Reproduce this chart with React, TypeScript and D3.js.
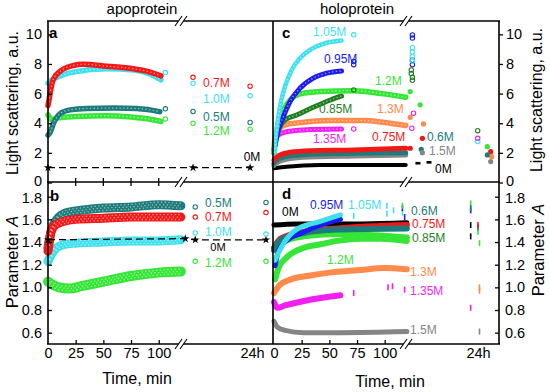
import React, { useEffect, useRef } from "react";
import * as d3 from "d3";

type Pt = [number, number];

// tick values
const lsTicks = [0, 2, 4, 6, 8, 10];
const paTicks = [0.6, 0.8, 1.0, 1.2, 1.4, 1.6, 1.8];
const minTicks = [0, 25, 50, 75, 100];
const dayTick = 1440; // "24h"

// panel a: light scattering, apoprotein  [time min, value]
const aRed07: Pt[] = [[0, 5.2], [1, 5.6], [2.4, 6.25], [4.8, 6.95], [10.8, 7.5], [23, 7.9], [32, 7.98], [53, 7.85], [77, 7.68], [90, 7.5], [102, 7.2]];
const aCyan10: Pt[] = [[0, 6.7], [5, 7.0], [11, 7.2], [23, 7.45], [53, 7.67], [77, 7.6], [92, 7.33], [102, 6.93]];
const aTeal05: Pt[] = [[0, 3.2], [2, 3.4], [5, 4.0], [8, 4.4], [11, 4.65], [20, 4.9], [35, 5.0], [60, 5.02], [80, 5.0], [92, 4.9], [101, 4.78]];
const aGreen12: Pt[] = [[0, 4.56], [1.5, 4.4], [3, 4.22], [8, 4.35], [25, 4.45], [53, 4.51], [75, 4.42], [90, 4.3], [102, 4.12]];
const aLateRed: Pt[] = [[131, 7.1], [1390, 6.5]];
const aLateCyan: Pt[] = [[106, 7.42], [131, 6.7], [1390, 5.85]];
const aLateTeal: Pt[] = [[106, 4.97], [131, 4.8], [1390, 4.05]];
const aLateGreen: Pt[] = [[106, 4.29], [131, 4.0], [1390, 3.6]];
const a0M: Pt[] = [[0, 1.0], [131, 1.0], [1390, 1.0]];

// panel b: parameter A, apoprotein
const bTeal05: Pt[] = [[0, 1.35], [3, 1.5], [8, 1.6], [17, 1.66], [30, 1.68], [50, 1.7], [75, 1.71], [100, 1.73], [120, 1.72]];
const bRed07: Pt[] = [[0, 1.32], [3, 1.5], [8, 1.56], [25, 1.6], [50, 1.61], [75, 1.62], [100, 1.62], [120, 1.62]];
const bCyan10: Pt[] = [[0, 1.23], [3, 1.29], [8, 1.35], [15, 1.38], [25, 1.39], [50, 1.4], [75, 1.41], [100, 1.41], [120, 1.42]];
const bGreen12: Pt[] = [[0, 1.05], [5, 1.02], [10, 1.0], [20, 0.99], [30, 1.01], [50, 1.05], [75, 1.1], [100, 1.13], [120, 1.14]];
const bLateTeal: Pt[] = [[133, 1.71], [1811, 1.75]];
const bLateRed: Pt[] = [[133, 1.62], [1811, 1.66]];
const bLateCyan: Pt[] = [[133, 1.48], [1811, 1.47]];
const bLateGreen: Pt[] = [[133, 1.23], [1811, 1.23]];
const b0M: Pt[] = [[0, 1.42], [124, 1.43], [133, 1.42], [1811, 1.42]];

// panel c: light scattering, holoprotein
const cCyan105: Pt[] = [[0.5, 2.0], [1, 2.6], [2.4, 3.55], [5.4, 5.12], [9.9, 6.47], [16, 7.6], [23.5, 8.39], [32.5, 8.95], [44.5, 9.36], [61, 9.58]];
const cBlue095: Pt[] = [[1, 2.5], [3, 3.3], [8.5, 4.45], [14.5, 5.46], [23.5, 6.36], [35.5, 7.04], [47.5, 7.38], [61, 7.53]];
const cGreen12: Pt[] = [[0, 2.0], [2, 3.2], [4, 4.1], [8.5, 4.9], [14.5, 5.57], [23.5, 5.98], [42, 6.14], [72, 6.2], [99, 5.98], [119, 5.75]];
const cDkGreen085: Pt[] = [[0, 2.2], [3, 3.3], [5.4, 3.77], [10, 4.22], [20.5, 4.56], [35.5, 5.08], [51, 5.57], [61, 5.84]];
const cOrange13: Pt[] = [[0, 2.3], [1, 3.1], [4, 3.55], [10, 3.89], [23.5, 4.04], [51, 4.18], [81, 4.18], [100, 4.05], [119, 3.85]];
const cMagenta135: Pt[] = [[0, 2.0], [1, 2.87], [4, 3.21], [11.5, 3.43], [26.5, 3.55], [61, 3.61]];
const cRed075: Pt[] = [[0, 1.5], [1, 1.63], [5.4, 1.86], [14.5, 2.04], [32.5, 2.15], [72, 2.2], [119, 2.31]];
const cTeal06: Pt[] = [[0, 1.3], [1, 1.41], [5.4, 1.63], [14.5, 1.81], [41.5, 1.93], [119, 2.01]];
const cGrey15: Pt[] = [[0, 1.15], [1, 1.25], [8.5, 1.52], [26.5, 1.7], [72, 1.79], [119, 1.86]];
const cBlack0: Pt[] = [[0, 0.96], [11.5, 1.07], [41.5, 1.18], [119, 1.18]];
const cLateBlue: Pt[] = [[72, 8.16], [72, 7.95], [125, 9.96], [125, 9.75], [125, 8.25], [125, 7.95]];
const cLateCyan: Pt[] = [[72, 9.97], [125, 9.1], [125, 8.8], [125, 8.5], [125, 8.2], [1432, 2.76]];
const cLateDkGreen: Pt[] = [[72, 6.25], [124, 7.6], [124, 7.35], [125, 7.1], [125, 6.9], [1432, 3.5]];
const cLateMagenta: Pt[] = [[72, 3.61], [126, 4.68], [124.5, 3.66], [1432, 2.98]];
const cLateGreen: Pt[] = [[123, 6.14], [132, 5.24], [1687, 2.42]];
const cLateOrange: Pt[] = [[123, 4.4], [135, 3.95], [1804, 1.74]];
const cLateRed: Pt[] = [[123, 2.31], [134, 2.98], [1777, 2.08]];
const cLateTeal: Pt[] = [[133, 2.24], [1687, 1.86]];
const cLateGrey: Pt[] = [[134, 2.01], [1777, 1.41]];
const cLateBlack: Pt[] = [[130, 1.3], [140, 1.36]];

// panel d: parameter A, holoprotein
const dBlack0: Pt[] = [[0, 1.55], [20, 1.56], [40, 1.56], [80, 1.56], [120, 1.57]];
const dTeal06: Pt[] = [[0, 1.33], [6, 1.42], [27, 1.48], [57, 1.51], [120, 1.52]];
const dRed075: Pt[] = [[0, 1.35], [6, 1.43], [27, 1.49], [57, 1.52], [120, 1.55]];
const dBlue095: Pt[] = [[1, 1.19], [4, 1.32], [11, 1.41], [25, 1.48], [45, 1.56], [60, 1.6]];
const dCyan105: Pt[] = [[1, 1.24], [7, 1.36], [20, 1.51], [41, 1.58], [60, 1.64]];
const dGreen085: Pt[] = [[1, 1.34], [10, 1.41], [27, 1.45], [60, 1.47], [90, 1.46], [120, 1.44]];
const dGreen12: Pt[] = [[1, 1.07], [4, 1.17], [11, 1.26], [27, 1.35], [42, 1.38], [57, 1.41], [78, 1.43], [96, 1.43], [120, 1.41]];
const dOrange13: Pt[] = [[0, 0.95], [5, 1.02], [15, 1.07], [30, 1.1], [50, 1.13], [75, 1.15], [100, 1.17], [120, 1.16]];
const dMagenta135: Pt[] = [[0, 0.87], [3, 0.82], [10, 0.84], [27, 0.88], [45, 0.91], [60, 0.93]];
const dGrey15: Pt[] = [[0, 0.7], [3, 0.65], [10, 0.62], [27, 0.6], [60, 0.6], [120, 0.61]];
const dSpikeCyan: Pt[] = [[72, 1.63], [102, 1.72], [102, 1.65], [108, 1.68], [116, 1.66]];
const dSpikeBlue: Pt[] = [[116, 1.7], [118, 1.62], [1246, 1.68]];
const dSpikeGreen: Pt[] = [[116, 1.72], [1246, 1.74], [1440, 1.49], [1480, 1.39]];
const dSpikeTeal: Pt[] = [[1246, 1.7], [1440, 1.53]];
const dSpikeBlack: Pt[] = [[1246, 1.55], [1246, 1.45]];
const dSpikeRed: Pt[] = [[1440, 1.55]];
const dSpikeMagenta: Pt[] = [[72, 0.95], [103, 1.0], [107, 1.01], [118, 0.98], [1246, 0.82]];
const dSpikeOrange: Pt[] = [[1480, 1.0], [1480, 0.97]];
const dSpikeGrey: Pt[] = [[1480, 0.61]];

const FONT = "'Liberation Sans', Arial, Helvetica, sans-serif";
const RED = "#f21818", CYAN = "#3fe0ee", TEAL = "#1e7b7b", GREEN = "#36e636",
  BLUE = "#1c1cf0", DKGREEN = "#1f7f1f", ORANGE = "#ff8a4c", MAGENTA = "#f21ff2", GREY = "#858585";

export default function App() {
  const ref = useRef<SVGSVGElement>(null);

  useEffect(() => {
    const svg = d3.select(ref.current);
    svg.selectAll("*").remove();

    const xL = d3.scaleLinear().domain([0, 140, 1440]).range([48, 203, 252]);
    const xR = d3.scaleLinear().domain([0, 140, 1440]).range([274, 429, 478]);
    const yLS = d3.scaleLinear().domain([0, 10.9]).range([182.5, 21]);
    const yPA = d3.scaleLinear().domain([0.5, 1.93]).range([344, 182]);

    const plot = svg.append("g");

    // a band of dense markers: coloured stroke with a dotted white texture on top
    const band = (data: Pt[], x: any, y: any, color: string, w: number, hollow = true) => {
      const line = d3.line<Pt>().x(d => x(d[0])).y(d => y(d[1])).curve(d3.curveMonotoneX);
      plot.append("path").datum(data).attr("d", line).attr("fill", "none")
        .attr("stroke", color).attr("stroke-width", w)
        .attr("stroke-linecap", "round").attr("stroke-linejoin", "round");
      if (hollow) {
        const offs = w >= 8 ? [-2.4, 0, 2.4] : [0];
        offs.forEach((o, i) => plot.append("path").datum(data).attr("d", line)
          .attr("transform", `translate(0,${o})`).attr("fill", "none")
          .attr("stroke", "#fff").attr("stroke-opacity", 0.55).attr("stroke-width", 1.3)
          .attr("stroke-dasharray", "1.3 2.4").attr("stroke-dashoffset", i * 1.7));
      }
    };

    const dots = (data: Pt[], x: any, y: any, color: string, kind: string) => {
      const g = plot.append("g");
      if (kind === "o") {
        g.selectAll("circle").data(data).join("circle")
          .attr("cx", d => x(d[0])).attr("cy", d => y(d[1])).attr("r", 2.2)
          .attr("fill", "none").attr("stroke", color).attr("stroke-width", 1.1);
      } else if (kind === "f") {
        g.selectAll("circle").data(data).join("circle")
          .attr("cx", d => x(d[0])).attr("cy", d => y(d[1])).attr("r", 2.6).attr("fill", color);
      } else if (kind === "v") {
        g.selectAll("rect").data(data).join("rect")
          .attr("x", d => x(d[0]) - 0.8).attr("y", d => y(d[1]) - 3).attr("width", 1.6).attr("height", 6).attr("fill", color);
      } else if (kind === "-") {
        g.selectAll("rect").data(data).join("rect")
          .attr("x", d => x(d[0]) - 2.5).attr("y", d => y(d[1]) - 1.3).attr("width", 5).attr("height", 2.6).attr("fill", color);
      } else if (kind === "*") {
        g.selectAll("path").data(data).join("path")
          .attr("transform", d => `translate(${x(d[0])},${y(d[1])})`)
          .attr("d", d3.symbol(d3.symbolStar, 22)).attr("fill", "#000");
      }
    };

    const dashed = (data: Pt[], x: any, y: any) => {
      plot.append("path").datum(data)
        .attr("d", d3.line<Pt>().x(d => x(d[0])).y(d => y(d[1])))
        .attr("fill", "none").attr("stroke", "#000").attr("stroke-width", 1.2).attr("stroke-dasharray", "7 4");
      dots(data, x, y, "#000", "*");
    };

    // panel a
    dashed(a0M, xL, yLS);
    band(aGreen12, xL, yLS, GREEN, 5.5);
    band(aTeal05, xL, yLS, TEAL, 5.5);
    band(aCyan10, xL, yLS, CYAN, 5.5);
    band(aRed07, xL, yLS, RED, 5.5);
    dots(aLateRed, xL, yLS, RED, "o");
    dots(aLateCyan, xL, yLS, CYAN, "o");
    dots(aLateTeal, xL, yLS, TEAL, "o");
    dots(aLateGreen, xL, yLS, GREEN, "o");

    // panel b
    band(bGreen12, xL, yPA, GREEN, 10);
    band(bCyan10, xL, yPA, CYAN, 9);
    band(bTeal05, xL, yPA, TEAL, 9);
    band(bRed07, xL, yPA, RED, 9);
    dashed(b0M, xL, yPA);
    dots(bLateTeal, xL, yPA, TEAL, "o");
    dots(bLateRed, xL, yPA, RED, "o");
    dots(bLateCyan, xL, yPA, CYAN, "o");
    dots(bLateGreen, xL, yPA, GREEN, "o");

    // panel c
    band(cBlack0, xR, yLS, "#000", 4, false);
    band(cGrey15, xR, yLS, GREY, 5, false);
    band(cTeal06, xR, yLS, TEAL, 5, false);
    band(cRed075, xR, yLS, RED, 5, false);
    band(cMagenta135, xR, yLS, MAGENTA, 5);
    band(cOrange13, xR, yLS, ORANGE, 5.5);
    band(cDkGreen085, xR, yLS, DKGREEN, 5);
    band(cGreen12, xR, yLS, GREEN, 5.5);
    band(cBlue095, xR, yLS, BLUE, 5);
    band(cCyan105, xR, yLS, CYAN, 4.5);
    dots(cLateBlue, xR, yLS, BLUE, "o");
    dots(cLateCyan, xR, yLS, CYAN, "o");
    dots(cLateDkGreen, xR, yLS, DKGREEN, "o");
    dots(cLateMagenta, xR, yLS, MAGENTA, "o");
    dots(cLateGreen, xR, yLS, GREEN, "f");
    dots(cLateOrange, xR, yLS, ORANGE, "f");
    dots(cLateRed, xR, yLS, RED, "f");
    dots(cLateTeal, xR, yLS, TEAL, "f");
    dots(cLateGrey, xR, yLS, GREY, "f");
    dots(cLateBlack, xR, yLS, "#000", "-");

    // panel d
    band(dGrey15, xR, yPA, GREY, 5, false);
    band(dMagenta135, xR, yPA, MAGENTA, 6, false);
    band(dOrange13, xR, yPA, ORANGE, 6, false);
    band(dGreen12, xR, yPA, GREEN, 6, false);
    band(dGreen085, xR, yPA, GREEN, 6, false);
    band(dBlack0, xR, yPA, "#000", 5, false);
    band(dRed075, xR, yPA, RED, 6, false);
    band(dTeal06, xR, yPA, TEAL, 6, false);
    band(dBlue095, xR, yPA, BLUE, 5, false);
    band(dCyan105, xR, yPA, CYAN, 5, false);
    dots(dSpikeCyan, xR, yPA, CYAN, "v");
    dots(dSpikeBlue, xR, yPA, BLUE, "v");
    dots(dSpikeGreen, xR, yPA, GREEN, "v");
    dots(dSpikeTeal, xR, yPA, TEAL, "v");
    dots(dSpikeBlack, xR, yPA, "#000", "v");
    dots(dSpikeRed, xR, yPA, RED, "v");
    dots(dSpikeMagenta, xR, yPA, MAGENTA, "v");
    dots(dSpikeOrange, xR, yPA, ORANGE, "v");
    dots(dSpikeGrey, xR, yPA, GREY, "v");

    // axes
    const styleAxis = (g: any) => {
      g.select(".domain").remove();
      g.attr("font-size", 14.5).attr("font-family", FONT);
      g.selectAll(".tick line").attr("stroke-width", 1.3);
    };
    // nudge the "0" and "1.8" labels apart where panels meet
    const nudge = (g: any, v: number, dy: number) =>
      g.selectAll(".tick text").filter((d: any) => d === v).attr("y", dy);
    svg.append("g").attr("transform", "translate(48,0)")
      .call(d3.axisLeft(yLS).tickValues(lsTicks).tickSizeInner(-4).tickSizeOuter(0).tickPadding(6)).call(styleAxis)
      .call((g: any) => nudge(g, 0, -2));
    svg.append("g").attr("transform", "translate(48,0)")
      .call(d3.axisLeft(yPA).tickValues(paTicks).tickFormat(d3.format(".1f")).tickSizeInner(-4).tickSizeOuter(0).tickPadding(6)).call(styleAxis)
      .call((g: any) => nudge(g, 1.8, 1));
    svg.append("g").attr("transform", "translate(499,0)")
      .call(d3.axisRight(yLS).tickValues(lsTicks).tickSizeInner(4).tickSizeOuter(0).tickPadding(3)).call(styleAxis)
      .call((g: any) => nudge(g, 0, -2));
    svg.append("g").attr("transform", "translate(499,0)")
      .call(d3.axisRight(yPA).tickValues(paTicks).tickFormat(d3.format(".1f")).tickSizeInner(-4).tickSizeOuter(0).tickPadding(6)).call(styleAxis)
      .call((g: any) => nudge(g, 1.8, 1));

    const timeFmt = (d: any) => (d === dayTick ? "24h" : String(d));
    [xL, xR].forEach(x => {
      svg.append("g").attr("transform", "translate(0,344)")
        .call(d3.axisBottom(x).tickValues([...minTicks, dayTick]).tickFormat(timeFmt).tickSizeInner(-4).tickSizeOuter(0).tickPadding(4))
        .call(styleAxis)
        .selectAll(".tick line").filter((d: any) => d === dayTick || d === 0).remove();
    });
    // ticks across the a/b boundary
    svg.append("g").selectAll("line").data(minTicks.slice(1)).join("line")
      .attr("x1", d => xL(d)).attr("x2", d => xL(d)).attr("y1", 178).attr("y2", 186)
      .attr("stroke", "#000").attr("stroke-width", 1.3);

    // frame
    const frame = svg.append("g").attr("stroke", "#000").attr("stroke-width", 1.6);
    [21, 182, 344].forEach(y => frame.append("line").attr("x1", 47).attr("x2", 500).attr("y1", y).attr("y2", y));
    [48, 273, 499].forEach(x => frame.append("line").attr("x1", x).attr("x2", x).attr("y1", 21).attr("y2", 344));

    // axis breaks
    [183, 408].forEach(cx => [21, 182, 344].forEach(y => {
      const b = svg.append("g");
      b.append("polygon")
        .attr("points", `${cx - 8},${y + 5} ${cx - 1},${y - 5} ${cx + 4},${y - 5} ${cx - 3},${y + 5}`)
        .attr("fill", "#fff");
      [0, 5].forEach(o => b.append("line")
        .attr("x1", cx - 8 + o).attr("y1", y + 5).attr("x2", cx - 1 + o).attr("y2", y - 5)
        .attr("stroke", "#000").attr("stroke-width", 1.1));
    }));

    // text
    const txt = (x: number, y: number, s: string, color = "#000", size = 12, anchor = "start", weight = "normal") =>
      svg.append("text").attr("x", x).attr("y", y).attr("dy", "0.35em").text(s)
        .attr("fill", color).attr("font-size", size).attr("font-family", FONT)
        .attr("text-anchor", anchor).attr("font-weight", weight);

    txt(142, 9, "apoprotein", "#000", 15, "middle");
    txt(357, 9, "holoprotein", "#000", 15, "middle");
    txt(49, 33, "a", "#000", 15, "start", "bold");
    txt(50, 196, "b", "#000", 15, "start", "bold");
    txt(282, 33, "c", "#000", 15, "start", "bold");
    txt(282, 194, "d", "#000", 15, "start", "bold");

    txt(137, 378, "Time, min", "#000", 16, "middle");
    txt(390, 381, "Time, min", "#000", 16, "middle");

    const vtxt = (x: number, y: number, s: string) => {
      const t = svg.append("text").attr("transform", `translate(${x},${y}) rotate(-90)`)
        .attr("dy", "0.35em").attr("text-anchor", "middle")
        .attr("font-size", 16).attr("font-family", FONT).attr("fill", "#000");
      return t.text(s);
    };
    vtxt(12, 103, "Light scattering, a.u.");
    vtxt(536, 100, "Light scattering, a.u.");
    const pa = (x: number, y: number) => {
      const t = svg.append("text").attr("transform", `translate(${x},${y}) rotate(-90)`)
        .attr("dy", "0.35em").attr("text-anchor", "middle")
        .attr("font-size", 16.5).attr("font-family", FONT).attr("fill", "#000");
      t.append("tspan").text("Parameter ");
      t.append("tspan").attr("font-style", "italic").text("A");
    };
    pa(12, 262);
    pa(538, 250);

    // series labels, panel a
    txt(203, 83, "0.7M", RED);
    txt(203, 99, "1.0M", CYAN);
    txt(203, 117, "0.5M", TEAL);
    txt(203, 131, "1.2M", GREEN);
    txt(252, 157, "0M", "#000", 12, "middle");
    // panel b
    txt(205, 203, "0.5M", TEAL);
    txt(205, 217, "0.7M", RED);
    txt(205, 232, "1.0M", CYAN);
    txt(218, 247, "0M", "#000", 11, "middle");
    txt(205, 263, "1.2M", GREEN);
    // panel c
    txt(313, 32, "1.05M", CYAN);
    txt(324, 59, "0.95M", BLUE);
    txt(375, 81, "1.2M", GREEN);
    txt(319, 109, "0.85M", DKGREEN);
    txt(377, 109, "1.3M", ORANGE);
    txt(313, 139, "1.35M", MAGENTA);
    txt(372, 137, "0.75M", RED);
    txt(427, 137, "0.6M", TEAL);
    txt(429, 151, "1.5M", GREY);
    txt(435, 169, "0M", "#000");
    // panel d
    txt(282, 212, "0M", "#000");
    txt(310, 205, "0.95M", BLUE);
    txt(348, 205, "1.05M", CYAN);
    txt(411, 211, "0.6M", TEAL);
    txt(412, 224, "0.75M", RED);
    txt(412, 238, "0.85M", DKGREEN);
    txt(327, 260, "1.2M", GREEN);
    txt(410, 272, "1.3M", ORANGE);
    txt(410, 291, "1.35M", MAGENTA);
    txt(410, 330, "1.5M", GREY);
  }, []);

  return (
    <svg ref={ref} width={550} height={392}
      style={{ position: "absolute", left: 0, top: 0, background: "#fff" }} />
  );
}
